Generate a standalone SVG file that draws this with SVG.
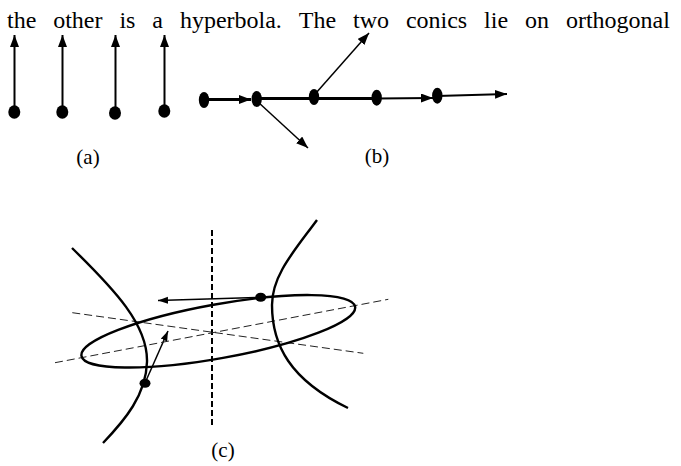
<svg xmlns="http://www.w3.org/2000/svg" width="681" height="466" viewBox="0 0 681 466">
<style>
text{font-family:"Liberation Serif","Times New Roman",serif;fill:#000}
.t{font-size:24px}
.lab{font-size:21px;text-anchor:middle}
.dot{fill:#000}
.a{stroke:#000;stroke-width:2;fill:none}
.thick{stroke:#000;stroke-width:3;fill:none}
.thin{stroke:#000;stroke-width:1.5;fill:none}
.curve{stroke:#000;stroke-width:2.4;fill:none}
.dash{stroke:#222;stroke-width:1;stroke-dasharray:8 4;fill:none}
.vdash{stroke:#000;stroke-width:2;stroke-dasharray:6 3;fill:none}
</style>
<defs>
<marker id="ah" markerUnits="userSpaceOnUse" markerWidth="13" markerHeight="10" refX="12" refY="4.5" orient="auto">
<path d="M0,0 L12,4.5 L0,9 z" fill="#000"/>
</marker>
<marker id="ahs" markerUnits="userSpaceOnUse" markerWidth="11" markerHeight="8" refX="10" refY="3.5" orient="auto">
<path d="M0,0 L10,3.5 L0,7 z" fill="#000"/>
</marker>
</defs>
<rect width="681" height="466" fill="#fff"/>
<text class="t" y="28"><tspan x="7">the</tspan><tspan x="53.2">other</tspan><tspan x="119.4">is</tspan><tspan x="152.3">a</tspan><tspan x="179.9">hyperbola.</tspan><tspan x="298.8">The</tspan><tspan x="353">two</tspan><tspan x="405.9">conics</tspan><tspan x="484.1">lie</tspan><tspan x="525">on</tspan><tspan x="565.9">orthogonal</tspan></text>
<g id="connectors">
<line class="a" x1="14.5" y1="112" x2="14.5" y2="35" marker-end="url(#ah)"/>
<line class="a" x1="62.5" y1="112" x2="62.5" y2="35" marker-end="url(#ah)"/>
<line class="a" x1="115.5" y1="112" x2="115.5" y2="35" marker-end="url(#ah)"/>
<line class="a" x1="164.5" y1="111" x2="164.5" y2="35" marker-end="url(#ah)"/>
<line class="thick" x1="204" y1="99.5" x2="251" y2="99.5" marker-end="url(#ah)"/>
<line class="thick" x1="257" y1="98.5" x2="377" y2="98.5"/>
<line class="a" x1="377" y1="98.5" x2="433" y2="98" marker-end="url(#ah)"/>
<line class="a" x1="437" y1="96" x2="507" y2="94" marker-end="url(#ah)"/>
<line class="thin" x1="316" y1="93" x2="369" y2="33" marker-end="url(#ah)"/>
<line class="thin" x1="258" y1="102" x2="308" y2="148" marker-end="url(#ah)"/>
<line class="thin" x1="258" y1="297.5" x2="158" y2="300.5" marker-end="url(#ahs)"/>
<line class="thin" x1="145" y1="383" x2="168" y2="331" marker-end="url(#ahs)"/>
</g>
<g id="a-dots">
<ellipse id="a1" class="dot" cx="14.3" cy="112" rx="6" ry="6.8"/>
<ellipse id="a2" class="dot" cx="62.3" cy="112" rx="6" ry="6.8"/>
<ellipse id="a3" class="dot" cx="115" cy="113" rx="6" ry="6.8"/>
<ellipse id="a4" class="dot" cx="164.3" cy="111" rx="6" ry="6.8"/>
</g>
<g id="b-dots">
<ellipse id="b1" class="dot" cx="204" cy="100" rx="5.2" ry="8"/>
<ellipse id="b2" class="dot" cx="256.7" cy="99" rx="5.2" ry="8"/>
<ellipse id="b3" class="dot" cx="314" cy="97" rx="5.2" ry="8"/>
<ellipse id="b4" class="dot" cx="376.7" cy="97.7" rx="5.2" ry="8"/>
<ellipse id="b5" class="dot" cx="437.3" cy="95.7" rx="5.2" ry="8"/>
</g>
<g id="c">
<line class="vdash" x1="212" y1="230" x2="212" y2="425"/>
<line class="dash" x1="55" y1="362.7" x2="388.3" y2="299.3"/>
<line class="dash" x1="72.3" y1="312.7" x2="363.3" y2="353.3"/>
<ellipse class="curve" cx="218.3" cy="331.3" rx="139" ry="27" transform="rotate(-10.2 218.3 331.3)"/>
<path class="curve" d="M72,248 C115,290 148,325 147,362 C146,395 125,420 103,443"/>
<path class="curve" d="M317,220 C295,250 272,275 272,305 C272,345 290,380 348,408"/>
<ellipse id="c1" class="dot" cx="260.7" cy="297.3" rx="5.5" ry="4.5"/>
<ellipse id="c2" class="dot" cx="145" cy="383.3" rx="5.5" ry="4.5"/>
</g>
<text class="lab" x="88" y="164">(a)</text>
<text class="lab" x="377" y="163">(b)</text>
<text class="lab" x="223" y="457">(c)</text>
</svg>
